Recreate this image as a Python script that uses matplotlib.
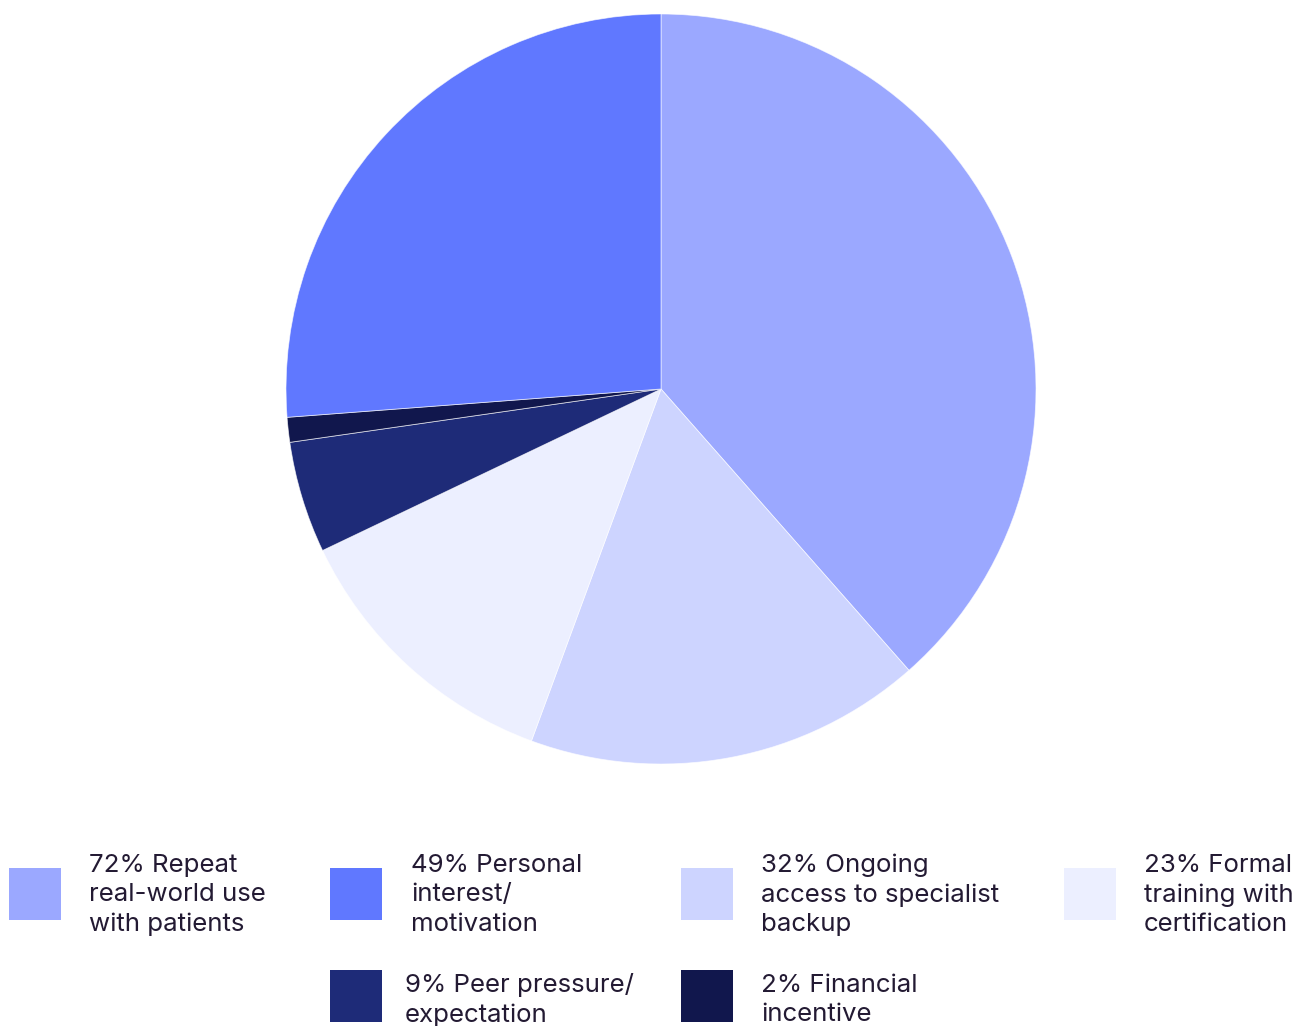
import matplotlib
matplotlib.use("Agg")
import matplotlib.pyplot as plt
from matplotlib.patches import Rectangle

plt.rcParams['font.family'] = ['Inter', 'DejaVu Sans']

# Data (legend order)
labels = ["72% Repeat\nreal-world use\nwith patients",
          "49% Personal\ninterest/\nmotivation",
          "32% Ongoing\naccess to specialist\nbackup",
          "23% Formal\ntraining with\ncertification",
          "9% Peer pressure/\nexpectation",
          "2% Financial\nincentive"]
values = [72, 49, 32, 23, 9, 2]
colors = ["#9BA8FF", "#6078FF", "#CDD4FF", "#ECEFFF", "#1E2B78", "#11174D"]
# order in which slices appear clockwise from 12 o'clock
pie_order = [0, 2, 3, 4, 5, 1]

W, H = 1307, 1026
fig = plt.figure(figsize=(W / 100, H / 100), dpi=100)

cx, cy, r = 661, 389, 375
ax = fig.add_axes([(cx - r) / W, 1 - (cy + r) / H, 2 * r / W, 2 * r / H])
ax.pie([values[i] for i in pie_order], colors=[colors[i] for i in pie_order],
       startangle=90, counterclock=False, radius=1,
       wedgeprops=dict(linewidth=0.6, edgecolor="#ffffffaa"))
ax.set_xlim(-1, 1)
ax.set_ylim(-1, 1)
ax.set_aspect('equal')
ax.axis('off')

# legend layout (pixel positions)
box_x = [9, 330, 681, 1064, 330, 681]
text_x = [89, 411, 761, 1144, 405, 761]
box_cy = [894, 894, 894, 894, 996, 996]
text_cy = [895, 895, 895, 895, 1000, 1000]
bs = 52
for i in range(len(values)):
    fig.patches.append(Rectangle((box_x[i] / W, 1 - (box_cy[i] + bs / 2) / H),
                                 bs / W, bs / H,
                                 transform=fig.transFigure, facecolor=colors[i],
                                 edgecolor='none'))
    fig.text(text_x[i] / W, 1 - text_cy[i] / H, labels[i], ha='left', va='center',
             fontsize=18.6, color="#231A33", linespacing=1.34)

fig.savefig("out.png", dpi=100)
